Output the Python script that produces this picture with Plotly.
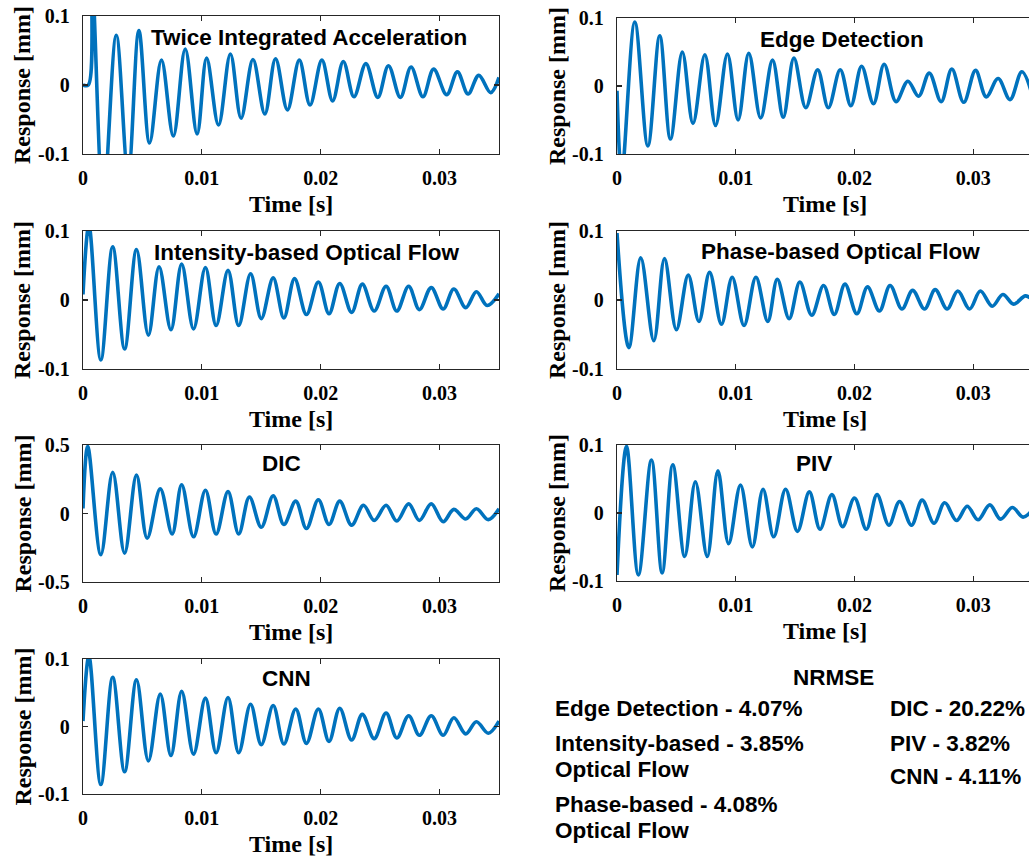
import plotly.graph_objects as go

# ---------------- data (peaks / troughs) ----------------
t_tia = [0, 0.00045, 0.00077, 0.0017, 0.0028, 0.0038, 0.0047, 0.0056, 0.0066, 0.0076, 0.0086,
         0.0096, 0.0104, 0.0114, 0.0124, 0.0133, 0.0143, 0.0153, 0.0162, 0.0172, 0.0182,
         0.0191, 0.0201, 0.0210, 0.0219, 0.0228, 0.0238, 0.0248, 0.0257, 0.0267, 0.0276,
         0.0286, 0.0295, 0.0306, 0.0315, 0.0324, 0.0333, 0.0343, 0.0350]
y_tia = [0, 0, 0.15, -0.17, 0.072, -0.13, 0.079, -0.084, 0.036, -0.074, 0.052,
         -0.071, 0.039, -0.058, 0.045, -0.048, 0.037, -0.042, 0.038, -0.036, 0.036,
         -0.029, 0.036, -0.023, 0.034, -0.017, 0.031, -0.018, 0.028, -0.018, 0.026,
         -0.017, 0.023, -0.014, 0.019, -0.013, 0.014, -0.011, 0.011]

t_ed = [0, 0.0004, 0.0015, 0.0026, 0.0036, 0.0045, 0.0055, 0.0064, 0.0074, 0.0083, 0.0093,
        0.0102, 0.0111, 0.0121, 0.0131, 0.0140, 0.0149, 0.0159, 0.0169, 0.0178, 0.0188,
        0.0197, 0.0206, 0.0216, 0.0225, 0.0235, 0.0245, 0.0254, 0.0263, 0.0273, 0.0282,
        0.0292, 0.0302, 0.0311, 0.0321, 0.0331, 0.0341, 0.0350]
y_ed = [-0.007, -0.13, 0.094, -0.088, 0.074, -0.078, 0.050, -0.055, 0.046, -0.058, 0.047,
        -0.050, 0.048, -0.047, 0.038, -0.046, 0.041, -0.032, 0.024, -0.032, 0.024,
        -0.029, 0.029, -0.026, 0.032, -0.023, 0.007, -0.015, 0.019, -0.023, 0.025,
        -0.024, 0.023, -0.016, 0.011, -0.020, 0.021, -0.015]

t_ib = [0, 0.0005, 0.0015, 0.0025, 0.0035, 0.0045, 0.0055, 0.0064, 0.0074, 0.0083, 0.0093,
        0.0103, 0.0112, 0.0122, 0.0131, 0.0141, 0.0150, 0.0160, 0.0169, 0.0178, 0.0188,
        0.0198, 0.0207, 0.0216, 0.0226, 0.0235, 0.0245, 0.0255, 0.0264, 0.0274, 0.0283,
        0.0293, 0.0303, 0.0312, 0.0322, 0.0331, 0.0340, 0.0350]
y_ib = [0.008, 0.108, -0.087, 0.077, -0.071, 0.073, -0.051, 0.048, -0.043, 0.052, -0.042,
        0.047, -0.037, 0.043, -0.037, 0.038, -0.027, 0.032, -0.026, 0.031, -0.021,
        0.026, -0.020, 0.024, -0.018, 0.023, -0.016, 0.020, -0.016, 0.020, -0.014,
        0.018, -0.013, 0.016, -0.011, 0.012, -0.008, 0.009]

t_pb = [0, 0.0010, 0.0020, 0.0031, 0.0040, 0.0050, 0.0060, 0.0069, 0.0078, 0.0088, 0.0097,
        0.0107, 0.0117, 0.0127, 0.0135, 0.0145, 0.0154, 0.0164, 0.0174, 0.0183, 0.0192,
        0.0202, 0.0211, 0.0221, 0.0230, 0.0240, 0.0249, 0.0259, 0.0268, 0.0278, 0.0287,
        0.0297, 0.0306, 0.0316, 0.0325, 0.0334, 0.0344, 0.0350]
y_pb = [0.097, -0.069, 0.061, -0.059, 0.060, -0.043, 0.036, -0.031, 0.040, -0.035, 0.033,
        -0.037, 0.033, -0.031, 0.030, -0.027, 0.026, -0.022, 0.021, -0.021, 0.023,
        -0.020, 0.019, -0.016, 0.021, -0.013, 0.014, -0.013, 0.015, -0.013, 0.013,
        -0.013, 0.013, -0.009, 0.008, -0.006, 0.006, 0.0]

t_dic = [0, 0.0004, 0.0015, 0.0025, 0.0035, 0.0045, 0.0054, 0.0065, 0.0075, 0.0083, 0.0093,
         0.0103, 0.0112, 0.0122, 0.0131, 0.0140, 0.0150, 0.0160, 0.0169, 0.0179, 0.0188,
         0.0198, 0.0207, 0.0216, 0.0226, 0.0236, 0.0245, 0.0255, 0.0264, 0.0274, 0.0283,
         0.0293, 0.0303, 0.0312, 0.0322, 0.0331, 0.0341, 0.0350]
y_dic = [0.037, 0.49, -0.30, 0.30, -0.29, 0.28, -0.18, 0.18, -0.15, 0.21, -0.17,
         0.17, -0.15, 0.16, -0.15, 0.12, -0.10, 0.13, -0.08, 0.09, -0.11,
         0.10, -0.08, 0.09, -0.085, 0.06, -0.05, 0.06, -0.055, 0.07, -0.05,
         0.07, -0.06, 0.03, -0.04, 0.035, -0.045, 0.035]

t_piv = [0, 0.0008, 0.0018, 0.0029, 0.0038, 0.0047, 0.0057, 0.0066, 0.0076, 0.0085, 0.0094,
         0.0104, 0.0114, 0.0123, 0.0132, 0.0142, 0.0152, 0.0162, 0.0171, 0.0181, 0.0190,
         0.0200, 0.0210, 0.0219, 0.0229, 0.0238, 0.0248, 0.0257, 0.0267, 0.0276, 0.0286,
         0.0295, 0.0304, 0.0314, 0.0323, 0.0333, 0.0342, 0.0350]
y_piv = [-0.091, 0.098, -0.091, 0.078, -0.088, 0.071, -0.064, 0.046, -0.064, 0.062, -0.045,
         0.041, -0.050, 0.035, -0.035, 0.035, -0.027, 0.031, -0.024, 0.027, -0.020,
         0.022, -0.024, 0.027, -0.018, 0.017, -0.018, 0.019, -0.015, 0.015, -0.011,
         0.010, -0.010, 0.012, -0.009, 0.008, -0.006, 0.005]

t_cnn = [0, 0.0005, 0.0015, 0.0025, 0.0035, 0.0045, 0.0055, 0.0065, 0.0074, 0.0083, 0.0093,
         0.0103, 0.0112, 0.0122, 0.0131, 0.0141, 0.0150, 0.0160, 0.0169, 0.0179, 0.0188,
         0.0198, 0.0207, 0.0216, 0.0226, 0.0235, 0.0245, 0.0255, 0.0264, 0.0274, 0.0283,
         0.0293, 0.0303, 0.0312, 0.0322, 0.0331, 0.0341, 0.0350]
y_cnn = [0.008, 0.104, -0.086, 0.073, -0.067, 0.069, -0.051, 0.048, -0.043, 0.052, -0.041,
         0.042, -0.039, 0.043, -0.039, 0.033, -0.027, 0.031, -0.026, 0.026, -0.025,
         0.026, -0.022, 0.027, -0.020, 0.018, -0.018, 0.020, -0.017, 0.016, -0.013,
         0.016, -0.013, 0.013, -0.011, 0.007, -0.010, 0.008]

titles = ["Twice Integrated Acceleration", "Edge Detection", "Intensity-based Optical Flow",
          "Phase-based Optical Flow", "DIC", "PIV", "CNN"]
x_ticks = [0, 0.01, 0.02, 0.03]
x_ticktext = ["0", "0.01", "0.02", "0.03"]
y_ticks_small = [-0.1, 0, 0.1]
y_ticktext_small = ["-0.1", "0", "0.1"]
y_ticks_dic = [-0.5, 0, 0.5]
y_ticktext_dic = ["-0.5", "0", "0.5"]

nrmse_left = ["Edge Detection - 4.07%", "Intensity-based - 3.85%", "Optical Flow",
              "Phase-based - 4.08%", "Optical Flow"]
nrmse_right = ["DIC - 20.22%", "PIV - 3.82%", "CNN - 4.11%"]

series = [(t_tia, y_tia), (t_ed, y_ed), (t_ib, y_ib), (t_pb, y_pb),
          (t_dic, y_dic), (t_piv, y_piv), (t_cnn, y_cnn)]

# ---------------- layout geometry (pixels) ----------------
W, H = 1029, 859
cols = [(83, 499), (617, 1029)]
col_xmax = [0.035, 0.0347]
rows_l = [(16, 154), (231, 369), (445, 582), (659, 794)]
rows_r = [(18, 154), (231, 369), (445, 581)]
title_pos = [(309, 37), (842, 39), (307, 253), (840, 252), (281, 463), (814, 463), (286, 678)]

LINE = "#0072BD"
AX = "#262626"
SERIF = "Liberation Serif"
SANS = "Liberation Sans"

fig = go.Figure()
layout = dict(template="none", width=W, height=H,
              margin=dict(l=0, r=0, t=0, b=0, pad=0, autoexpand=False), autosize=False,
              paper_bgcolor="white", plot_bgcolor="white", showlegend=False)
annotations = []

for i, (tt, yy) in enumerate(series):
    c = i % 2
    r = i // 2
    top, bot = (rows_l if c == 0 else rows_r)[r]
    x0, x1 = cols[c]
    idx = "" if i == 0 else str(i + 1)
    fig.add_trace(go.Scatter(x=tt, y=yy, mode="lines", xaxis="x" + idx, yaxis="y" + idx,
                             line=dict(color=LINE, width=3.6, shape="spline", smoothing=1),
                             hoverinfo="skip"))
    is_dic = (i == 4)
    layout["xaxis" + idx] = dict(
        domain=[x0 / W, x1 / W], anchor="y" + idx, range=[0, col_xmax[c]], automargin=False,
        tickvals=x_ticks, ticktext=x_ticktext, ticks="inside", ticklen=5, tickwidth=1.2,
        tickcolor=AX, showline=True, linecolor=AX, linewidth=1.3, mirror="ticks",
        showgrid=False, zeroline=False, ticklabelstandoff=6, fixedrange=True,
        tickfont=dict(family=SERIF, size=20, color="black", weight="bold"))
    layout["yaxis" + idx] = dict(
        domain=[1 - bot / H, 1 - top / H], anchor="x" + idx, automargin=False,
        range=[-0.5, 0.5] if is_dic else [-0.1, 0.1],
        tickvals=y_ticks_dic if is_dic else y_ticks_small,
        ticktext=y_ticktext_dic if is_dic else y_ticktext_small,
        ticks="inside", ticklen=5, tickwidth=1.2, tickcolor=AX, showline=True,
        linecolor=AX, linewidth=1.3, mirror="ticks" if c == 0 else False,
        showgrid=False, zeroline=False, ticklabelstandoff=8, fixedrange=True,
        tickfont=dict(family=SERIF, size=20, color="black", weight="bold"))
    tx, ty = title_pos[i]
    annotations.append(dict(text=titles[i], x=tx / W, y=1 - ty / H, xref="paper", yref="paper",
                            xanchor="center", yanchor="middle", showarrow=False,
                            font=dict(family=SANS, size=22.5, color="black", weight="bold")))
    xc = (x0 + x0 + 416) / 2
    annotations.append(dict(text="Time [s]", x=xc / W, y=1 - (bot + 50) / H, xref="paper",
                            yref="paper", xanchor="center", yanchor="middle", showarrow=False,
                            font=dict(family=SERIF, size=24, color="black", weight="bold")))
    yx = 22 if c == 0 else 557
    annotations.append(dict(text="Response [mm]", x=yx / W, y=1 - (top + bot) / 2 / H,
                            xref="paper", yref="paper", xanchor="center", yanchor="middle",
                            textangle=-90, showarrow=False,
                            font=dict(family=SERIF, size=24, color="black", weight="bold")))

annotations.append(dict(text="NRMSE", x=833 / W, y=1 - 677 / H, xref="paper", yref="paper",
                        xanchor="center", yanchor="middle", showarrow=False,
                        font=dict(family=SANS, size=22.5, color="black", weight="bold")))
left_y = [708, 743, 769, 804, 830]
for txt, yy in zip(nrmse_left, left_y):
    annotations.append(dict(text=txt, x=553 / W, y=1 - yy / H, xref="paper", yref="paper",
                            xanchor="left", yanchor="middle", showarrow=False,
                            font=dict(family=SANS, size=22.5, color="black", weight="bold")))
right_y = [708, 743, 776]
for txt, yy in zip(nrmse_right, right_y):
    annotations.append(dict(text=txt, x=888 / W, y=1 - yy / H, xref="paper", yref="paper",
                            xanchor="left", yanchor="middle", showarrow=False,
                            font=dict(family=SANS, size=22.5, color="black", weight="bold")))

layout["annotations"] = annotations
fig.update_layout(**layout)
fig.write_html("out.html", config={"displayModeBar": False, "staticPlot": True},
               post_script="document.body.style.margin='0';")
